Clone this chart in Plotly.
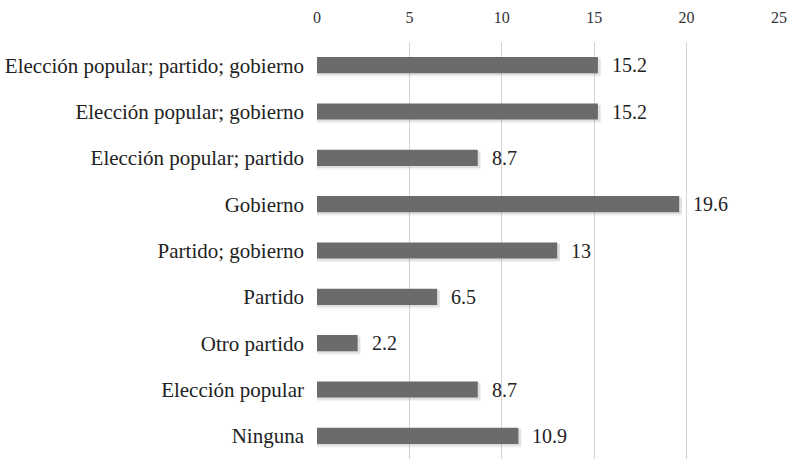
import plotly.graph_objects as go

categories = ["Elección popular; partido; gobierno", "Elección popular; gobierno",
              "Elección popular; partido", "Gobierno", "Partido; gobierno",
              "Partido", "Otro partido", "Elección popular", "Ninguna"]
values = [15.2, 15.2, 8.7, 19.6, 13, 6.5, 2.2, 8.7, 10.9]
value_labels = ["15.2", "15.2", "8.7", "19.6", "13", "6.5", "2.2", "8.7", "10.9"]
tick_vals = [0, 5, 10, 15, 20, 25]

FONT = "Liberation Serif"

fig = go.Figure()
# soft shadow under bars (two layers for blur)
for w, off, a in [(0.40, -0.25, 0.05), (0.36, -0.22, 0.07)]:
    fig.add_trace(go.Bar(
        y=categories, x=[v + 0.15 for v in values], orientation="h", width=w, offset=off,
        marker=dict(color=f"rgba(0,0,0,{a})", line=dict(width=0)),
        hoverinfo="skip", showlegend=False))
fig.add_trace(go.Bar(
    y=categories, x=values, orientation="h", width=0.35, offset=-0.175,
    marker=dict(color="#6b6b6b", line=dict(width=0)), showlegend=False))

for c, v, t in zip(categories, values, value_labels):
    fig.add_annotation(x=v, y=c, text=t, showarrow=False, xanchor="left",
                       xshift=12, font=dict(family=FONT, size=20, color="#222"))

fig.update_layout(
    width=791, height=459, barmode="overlay",
    margin=dict(l=317, r=12, t=42, b=0),
    plot_bgcolor="white", paper_bgcolor="white",
    font=dict(family=FONT, size=21, color="#222"),
    xaxis=dict(side="top", range=[0, 25], tickvals=tick_vals, showgrid=True,
               gridcolor="#d4d4d4", gridwidth=1, zeroline=False, showline=False,
               ticks="", ticklabelstandoff=15, tickfont=dict(size=16, color="#333"),
               automargin=False),
    yaxis=dict(categoryorder="array", categoryarray=categories[::-1],
               showgrid=False, zeroline=False, showline=False, ticks="",
               ticklabelstandoff=12, range=[-0.5, 8.5], automargin=False),
)
fig.write_html("out.html", config={"displayModeBar": False},
               post_script="document.body.style.margin='0';document.body.style.overflow='hidden';")
